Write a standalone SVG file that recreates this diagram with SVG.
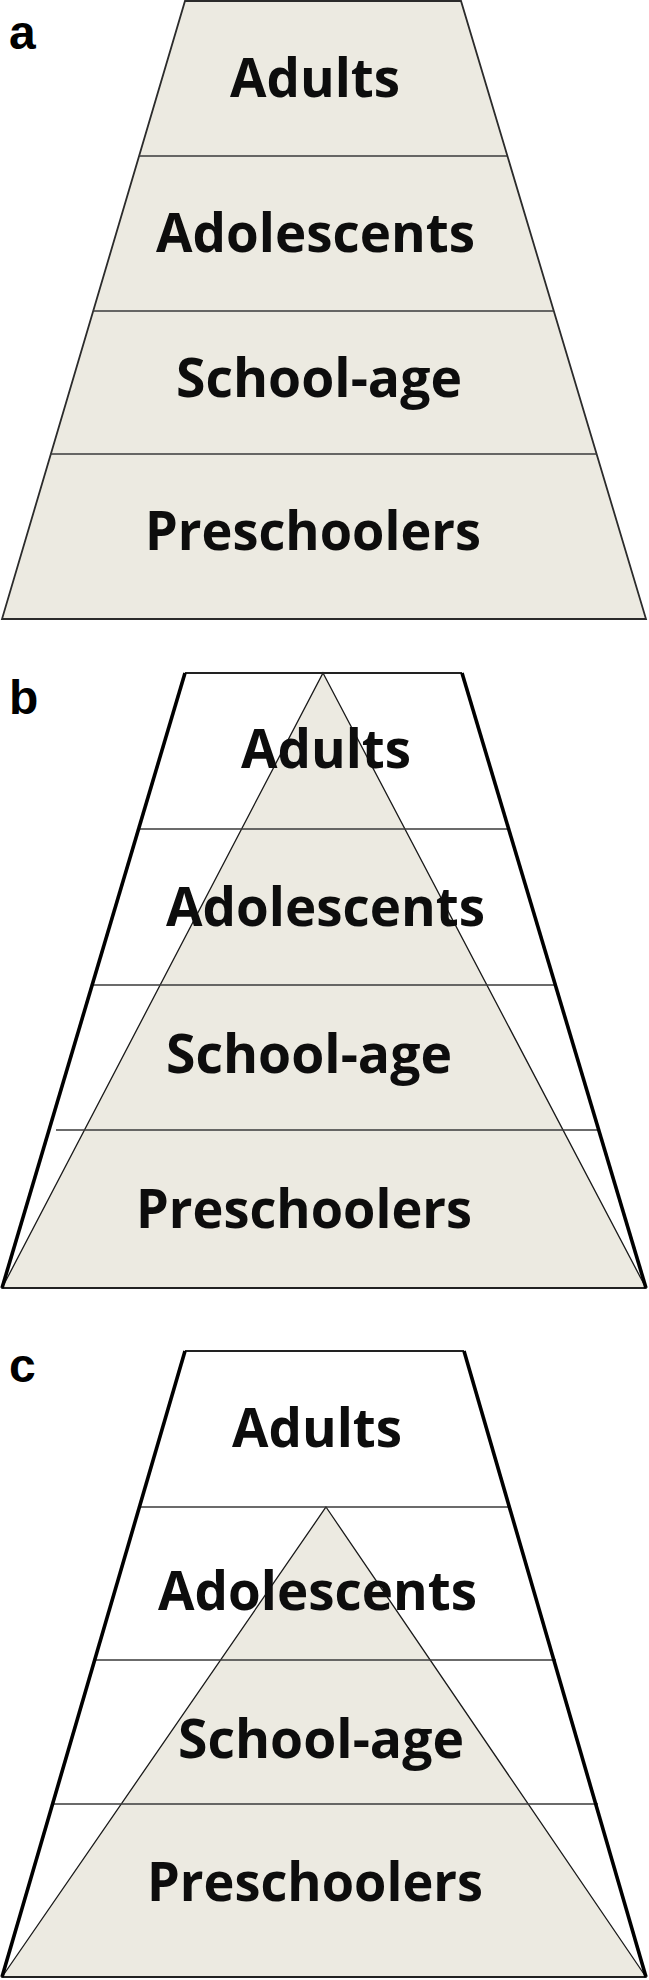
<svg xmlns="http://www.w3.org/2000/svg" width="649" height="1980" viewBox="0 0 649 1980">
<style>
.bg{fill:#ffffff}
.fillA{fill:#ECEAE1;stroke:#2b2b2b;stroke-width:1.8;stroke-linejoin:miter}
.outline{fill:none;stroke:#000;stroke-width:3.6;stroke-linejoin:miter}
.edge{fill:none;stroke:#222;stroke-width:1.8}
.tri{fill:#ECEAE1;stroke:#1a1a1a;stroke-width:1.3}
.div{stroke:#3a3a3a;stroke-width:1.6;fill:none}
.lbl{font-family:"Open Sans","Noto Sans","DejaVu Sans",sans-serif;font-weight:700;font-size:53px;fill:#0d0d0d}
.pl{font-family:"Liberation Sans",Arial,sans-serif;font-weight:700;font-size:48px;fill:#000}
</style>
<rect class="bg" x="0" y="0" width="649" height="1980"/>

<g id="panel-a">
  <text class="pl" x="9" y="49">a</text>
  <polygon class="fillA" points="185,1 461,1 646,619 2,619"/>
  <g id="a-dividers">
    <line class="div" x1="139" y1="156" x2="507" y2="156"/>
    <line class="div" x1="93" y1="311" x2="554" y2="311"/>
    <line class="div" x1="50" y1="454" x2="597" y2="454"/>
  </g>
  <g id="a-adults"><text class="lbl" x="230" y="97" textLength="170" lengthAdjust="spacingAndGlyphs">Adults</text></g>
  <g id="a-adolescents"><text class="lbl" x="156" y="252" textLength="319" lengthAdjust="spacingAndGlyphs">Adolescents</text></g>
  <g id="a-schoolage"><text class="lbl" x="176" y="397" textLength="286" lengthAdjust="spacingAndGlyphs">School-age</text></g>
  <g id="a-preschoolers"><text class="lbl" x="145" y="550" textLength="336" lengthAdjust="spacingAndGlyphs">Preschoolers</text></g>
</g>

<g id="panel-b">
  <text class="pl" x="9" y="714">b</text>
  <polygon class="tri" points="323,673 646,1288 2,1288"/>
  <g id="b-dividers">
    <line class="div" x1="139" y1="829" x2="508" y2="829"/>
    <line class="div" x1="93" y1="985" x2="555" y2="985"/>
    <line class="div" x1="56" y1="1130" x2="600" y2="1130"/>
  </g>
  <line class="edge" x1="185" y1="673" x2="462" y2="673"/>
  <line class="edge" x1="2" y1="1288" x2="646" y2="1288"/>
  <line class="outline" x1="185" y1="673" x2="2" y2="1288"/>
  <line class="outline" x1="462" y1="673" x2="646" y2="1288"/>
  <g id="b-adults"><text class="lbl" x="241" y="768" textLength="170" lengthAdjust="spacingAndGlyphs">Adults</text></g>
  <g id="b-adolescents"><text class="lbl" x="166" y="926" textLength="319" lengthAdjust="spacingAndGlyphs">Adolescents</text></g>
  <g id="b-schoolage"><text class="lbl" x="166" y="1073" textLength="286" lengthAdjust="spacingAndGlyphs">School-age</text></g>
  <g id="b-preschoolers"><text class="lbl" x="136" y="1228" textLength="336" lengthAdjust="spacingAndGlyphs">Preschoolers</text></g>
</g>

<g id="panel-c">
  <text class="pl" x="9" y="1382">c</text>
  <polygon class="tri" points="326,1507 646,1977 2,1977"/>
  <g id="c-dividers">
    <line class="div" x1="140" y1="1507" x2="510" y2="1507"/>
    <line class="div" x1="95" y1="1660" x2="556" y2="1660"/>
    <line class="div" x1="53" y1="1804" x2="598" y2="1804"/>
  </g>
  <line class="edge" x1="185" y1="1351" x2="464" y2="1351"/>
  <line class="edge" x1="2" y1="1977" x2="646" y2="1977"/>
  <line class="outline" x1="185" y1="1351" x2="2" y2="1977"/>
  <line class="outline" x1="464" y1="1351" x2="646" y2="1977"/>
  <g id="c-adults"><text class="lbl" x="232" y="1447" textLength="170" lengthAdjust="spacingAndGlyphs">Adults</text></g>
  <g id="c-adolescents"><text class="lbl" x="158" y="1610" textLength="319" lengthAdjust="spacingAndGlyphs">Adolescents</text></g>
  <g id="c-schoolage"><text class="lbl" x="178" y="1758" textLength="286" lengthAdjust="spacingAndGlyphs">School-age</text></g>
  <g id="c-preschoolers"><text class="lbl" x="147" y="1901" textLength="336" lengthAdjust="spacingAndGlyphs">Preschoolers</text></g>
</g>
</svg>
